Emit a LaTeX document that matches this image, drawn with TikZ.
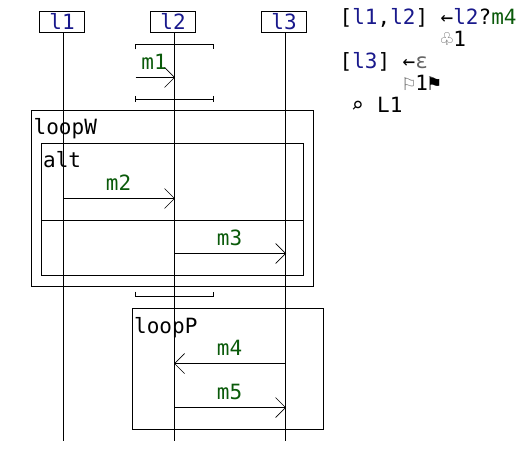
\documentclass[tikz,border=0pt]{standalone}
\usepackage{fontspec}
\setmainfont{DejaVu Sans Mono}
\definecolor{lifeblue}{RGB}{25,25,140}
\definecolor{msggreen}{RGB}{10,90,10}
\definecolor{softgray}{RGB}{100,100,100}
\newcommand{\Lf}[1]{\textcolor{lifeblue}{#1}}
\newcommand{\Mg}[1]{\textcolor{msggreen}{#1}}
\tikzset{
  txt/.style={font=\fontsize{21bp}{23bp}\selectfont,inner sep=0pt,anchor=base west},
  life/.style={draw=black,line width=1bp,fill=white,minimum width=45bp,minimum height=21bp,inner sep=0pt,text=lifeblue,font=\fontsize{21bp}{23bp}\selectfont},
  lline/.style={draw=black,line width=1bp},
  frame/.style={draw=black,line width=1bp},
  msg/.style={draw=black,line width=1bp},
  head/.style={draw=black,line width=0.7bp},
  mlabel/.style={font=\fontsize{21bp}{23bp}\selectfont,inner sep=0pt,text=msggreen,anchor=base},
}
\begin{document}
\begin{tikzpicture}[x=1bp,y=-1bp]
\useasboundingbox (0,0) rectangle (530,451);
% frames
\draw[frame] (31.5,110.5) rectangle (313.5,286.5);
\draw[frame] (41.5,143.5) rectangle (303.5,275.5);
\coordinate (divL) at (41.5,220.5);
\coordinate (divR) at (303.5,220.5);
\draw[frame] (divL) -- (divR);
\draw[frame] (132.5,308.5) rectangle (323.5,429.5);
% lifelines
\node[life,text depth=0pt,text height=15bp] (l1) at (62,22) {l1};
\node[life,text depth=0pt,text height=15bp] (l2) at (173,22) {l2};
\node[life,text depth=0pt,text height=15bp] (l3) at (284,22) {l3};
\coordinate (e1) at (63.5,440.5);
\coordinate (e2) at (174.5,440.5);
\coordinate (e3) at (285.5,440.5);
\draw[lline] (63.5,32.5) -- (e1);
\draw[lline] (174.5,32.5) -- (e2);
\draw[lline] (285.5,32.5) -- (e3);
% brackets
\draw[frame] (135.5,49.5) -- (135.5,44.5) -- (213.5,44.5) -- (213.5,49.5);
\draw[frame] (135.5,96) -- (135.5,102) (135.5,99.5) -- (213.5,99.5) (213.5,96) -- (213.5,102);
\draw[frame] (135.5,291.5) -- (135.5,296.5) -- (213.5,296.5) -- (213.5,291.5);
% messages
\coordinate (a1s) at (135.5,77.5); \coordinate (a1e) at (174.5,77.5);
\coordinate (a2s) at (63.5,198.5); \coordinate (a2e) at (174.5,198.5);
\coordinate (a3s) at (174.5,253.5); \coordinate (a3e) at (285.5,253.5);
\coordinate (a4s) at (285.5,363.5); \coordinate (a4e) at (174.5,363.5);
\coordinate (a5s) at (174.5,407.5); \coordinate (a5e) at (285.5,407.5);
\draw[msg] (a1s) -- (a1e);
\draw[msg] (a2s) -- (a2e);
\draw[msg] (a3s) -- (a3e);
\draw[msg] (a4s) -- (a4e);
\draw[msg] (a5s) -- (a5e);
\draw[head] ([shift={(-10,-10)}]a1e) -- (a1e) -- ([shift={(-10,10)}]a1e);
\draw[head] ([shift={(-10,-10)}]a2e) -- (a2e) -- ([shift={(-10,10)}]a2e);
\draw[head] ([shift={(-10,-10)}]a3e) -- (a3e) -- ([shift={(-10,10)}]a3e);
\draw[head] ([shift={(10,-10)}]a4e) -- (a4e) -- ([shift={(10,10)}]a4e);
\draw[head] ([shift={(-10,-10)}]a5e) -- (a5e) -- ([shift={(-10,10)}]a5e);
% labels
\node[mlabel] (m1) at (154,70) {m1};
\node[mlabel] (m2) at (118.5,190.5) {m2};
\node[mlabel] (m3) at (229.5,245.5) {m3};
\node[mlabel] (m4) at (229.5,355) {m4};
\node[mlabel] (m5) at (229.5,399) {m5};
\node[txt] (loopW) at (33.5,135) {loopW};
\node[txt] (alt) at (43,168) {alt};
\node[txt] (loopP) at (134,333) {loopP};
% state text
\node[txt] (s1) at (339.5,25) {[\Lf{l1},\Lf{l2}]};
\node[txt] (s1b) at (440.5,25) {←\Lf{l2}?\Mg{m4}};
\node[txt] (s2) at (440.5,47) {\textcolor{softgray}{♧}1};
\node[txt] (s3) at (339.5,69) {[\Lf{l3}]};
\node[txt] (s3b) at (402.5,69) {←\textcolor{softgray}{ε}};
\node[txt] (s4) at (402.5,91) {\textcolor{softgray}{⚐}1⚑};
\node[txt] (s5) at (351,113) {⌕};
\node[txt] (s5b) at (377,113) {L1};
\end{tikzpicture}
\end{document}
